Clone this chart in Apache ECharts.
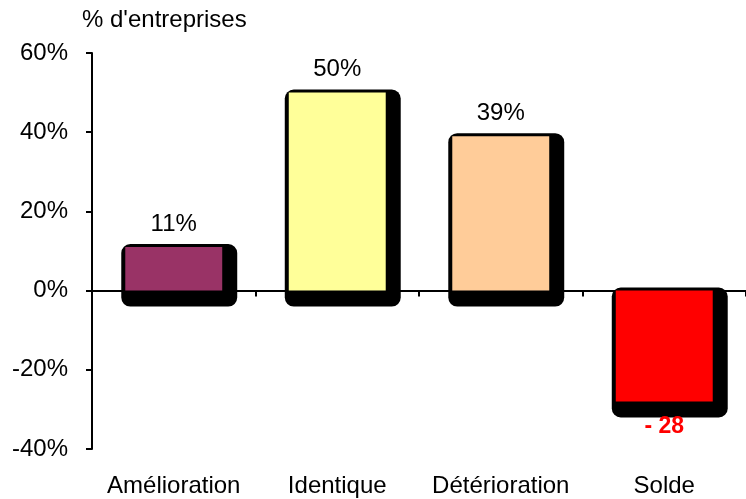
<!DOCTYPE html>
<html>
<head>
<meta charset="utf-8">
<script src="https://cdn.jsdelivr.net/npm/echarts@6/dist/echarts.min.js"></script>
<style>
  html, body { margin: 0; padding: 0; background: #fff; }
  #chart { width: 746px; height: 499px; }
</style>
</head>
<body>
<div id="chart"></div>
<script>
const categories = ['Amélioration', 'Identique', 'Détérioration', 'Solde']
const values = [11, 50, 39, -28]
const valueLabels = ['11%', '50%', '39%', '- 28']
const barColors = ['#993366', '#FFFF99', '#FFCC99', '#FF0000']
const yTicks = { min: -40, max: 60, interval: 20 }

const font = 'Liberation Sans, Arial, sans-serif'
const chart = echarts.init(document.getElementById('chart'))

// bar with a thick black rounded "shadow" behind it
function renderBar(params, api) {
  const idx = api.value(0)
  const val = api.value(1)
  const base = api.coord([idx, 0])
  const end = api.coord([idx, val])
  const barW = api.size([1, 0])[0] * 0.593
  const x0 = base[0] - barW / 2
  const y0 = Math.min(base[1], end[1])
  const h = Math.abs(base[1] - end[1])
  const neg = val < 0
  return {
    type: 'group',
    children: [
      {
        type: 'rect',
        shape: { x: x0 - 4, y: y0 - 3, width: barW + 19, height: h + 19, r: 9 },
        style: { fill: '#000' },
      },
      {
        type: 'rect',
        shape: { x: x0, y: y0, width: barW, height: h },
        style: { fill: barColors[params.dataIndex] },
      },
      {
        type: 'text',
        x: base[0],
        y: neg ? y0 + h + 25 : y0 - 23,
        style: {
          text: valueLabels[params.dataIndex],
          align: 'center',
          verticalAlign: 'middle',
          fontFamily: font,
          fontSize: neg ? 23 : 24,
          fontWeight: neg ? 'bold' : 'normal',
          fill: neg ? '#FF0000' : '#000',
        },
      },
    ],
  }
}

const option = {
  animation: false,
  title: {
    text: "% d'entreprises",
    left: 82,
    top: 8,
    padding: 0,
    textStyle: { fontFamily: font, fontSize: 24, fontWeight: 'normal', color: '#000' },
  },
  grid: { left: 92, right: -7, top: 53, bottom: 50 },
  xAxis: [
    {
      type: 'category',
      data: categories,
      position: 'bottom',
      axisLine: { onZero: true, lineStyle: { color: '#000', width: 2 } },
      axisTick: { show: true, length: 6, lineStyle: { color: '#000', width: 2 } },
      axisLabel: { show: false },
      splitLine: { show: false },
    },
    {
      type: 'category',
      data: categories,
      position: 'bottom',
      axisLine: { show: false, onZero: false },
      axisTick: { show: false },
      axisLabel: {
        interval: 0,
        hideOverlap: false,
        margin: 25,
        fontFamily: font,
        fontSize: 24,
        color: '#000',
      },
      splitLine: { show: false },
    },
  ],
  yAxis: {
    type: 'value',
    min: yTicks.min,
    max: yTicks.max,
    interval: yTicks.interval,
    axisLine: { show: true, lineStyle: { color: '#000', width: 2 } },
    axisTick: { show: true, length: 6, lineStyle: { color: '#000', width: 2 } },
    axisLabel: { formatter: '{value}%', margin: 24, fontFamily: font, fontSize: 24, color: '#000' },
    splitLine: { show: false },
  },
  series: [
    {
      type: 'custom',
      xAxisIndex: 0,
      renderItem: renderBar,
      data: values.map((v, i) => [i, v]),
    },
  ],
}
chart.setOption(option)
</script>
</body>
</html>
